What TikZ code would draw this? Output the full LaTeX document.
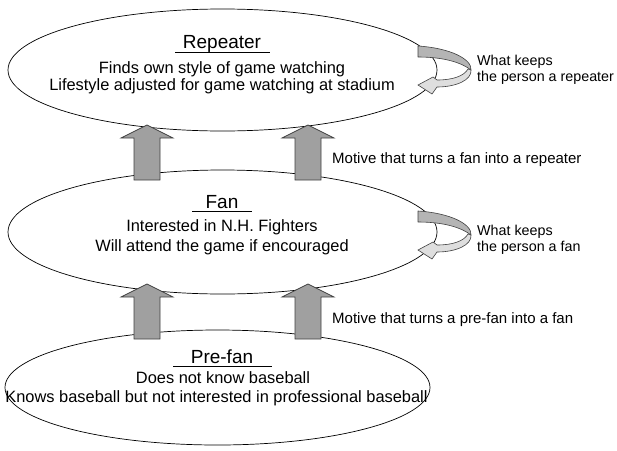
\documentclass[tikz,border=0pt]{standalone}
\usepackage{fontspec}
\setmainfont{Liberation Sans}
\usetikzlibrary{shapes.geometric}
\definecolor{arrowgray}{HTML}{A0A0A0}
\definecolor{outl}{HTML}{404040}
\definecolor{curldark}{HTML}{B4B4B4}
\definecolor{curllight}{HTML}{DEDEDE}
\begin{document}
\begin{tikzpicture}[x=1pt,y=-1pt,
 stage/.style={draw=black, line width=0.7pt, ellipse, inner sep=0},
 txt/.style={anchor=base, inner sep=0, font=\fontsize{16.4}{18}\selectfont},
 ttl/.style={anchor=base, inner sep=0, font=\fontsize{19}{22}\selectfont},
 lbl/.style={anchor=base west, inner sep=0, font=\fontsize{15}{18}\selectfont},
 klbl/.style={anchor=base west, inner sep=0, font=\fontsize{14.3}{16}\selectfont},
 uline/.style={line width=0.8pt},
 uparrow/.pic={\draw[fill=arrowgray, draw=outl, line width=0.7pt, line join=miter]
   (-13,55)--(-13,13)--(-26,13)--(0,0)--(26,13)--(13,13)--(13,55)--cycle;},
 curl/.pic={
   \draw[fill=curldark, draw=outl, line width=0.6pt, line join=round]
     (0,0) .. controls (32,2) and (54,13) .. (53,24)
     .. controls (44,17) and (27,11) .. (0,11) -- cycle;
   \draw[fill=curllight, draw=outl, line width=0.6pt, line join=miter]
     (53,24) .. controls (54,34) and (38,41) .. (19,41) -- (14,48) -- (0,39)
     -- (15,31) -- (19,34) .. controls (35,34) and (46,30) .. (50,23) -- cycle;}
]
\useasboundingbox (0,0) rectangle (617,450);

% stages
\node[stage, minimum width=429, minimum height=122] (rep) at (222.5,70) {};
\node[stage, minimum width=429, minimum height=124] (fan) at (222.5,232) {};
\node[stage, minimum width=425, minimum height=115] (pre) at (217.5,387.5) {};

% repeater text
\node[ttl] (repT) at (222,48) {Repeater};
\draw[uline] (175,52) -- (270,52);
\node[txt] (rep1) at (222,73) {Finds own style of game watching};
\node[txt] (rep2) at (222,90) {Lifestyle adjusted for game watching at stadium};

% fan text
\node[ttl] (fanT) at (222,208) {Fan};
\draw[uline] (192,211.5) -- (252,211.5);
\node[txt] (fan1) at (222,231) {Interested in N.H. Fighters};
\node[txt] (fan2) at (222,251) {Will attend the game if encouraged};

% pre-fan text
\node[ttl] (preT) at (222,363) {Pre-fan};
\draw[uline] (173,366.5) -- (272,366.5);
\node[txt] (pre1) at (223,383) {Does not know baseball};
\node[txt] (pre2) at (216.5,402) {Knows baseball but not interested in professional baseball};

% up arrows
\pic at (147,125) {uparrow};
\pic at (308,125) {uparrow};
\pic at (147,284) {uparrow};
\pic at (308,284) {uparrow};

\node[lbl] (m1) at (332,163) {Motive that turns a fan into a repeater};
\node[lbl] (m2) at (332,323) {Motive that turns a pre-fan into a fan};

% keep curls
\pic at (418,46) {curl};
\pic at (418,211) {curl};
\node[klbl] (k1a) at (477,65) {What keeps};
\node[klbl] (k1b) at (477,81) {the person a repeater};
\node[klbl] (k2a) at (477,235) {What keeps};
\node[klbl] (k2b) at (477,251) {the person a fan};
\end{tikzpicture}
\end{document}
